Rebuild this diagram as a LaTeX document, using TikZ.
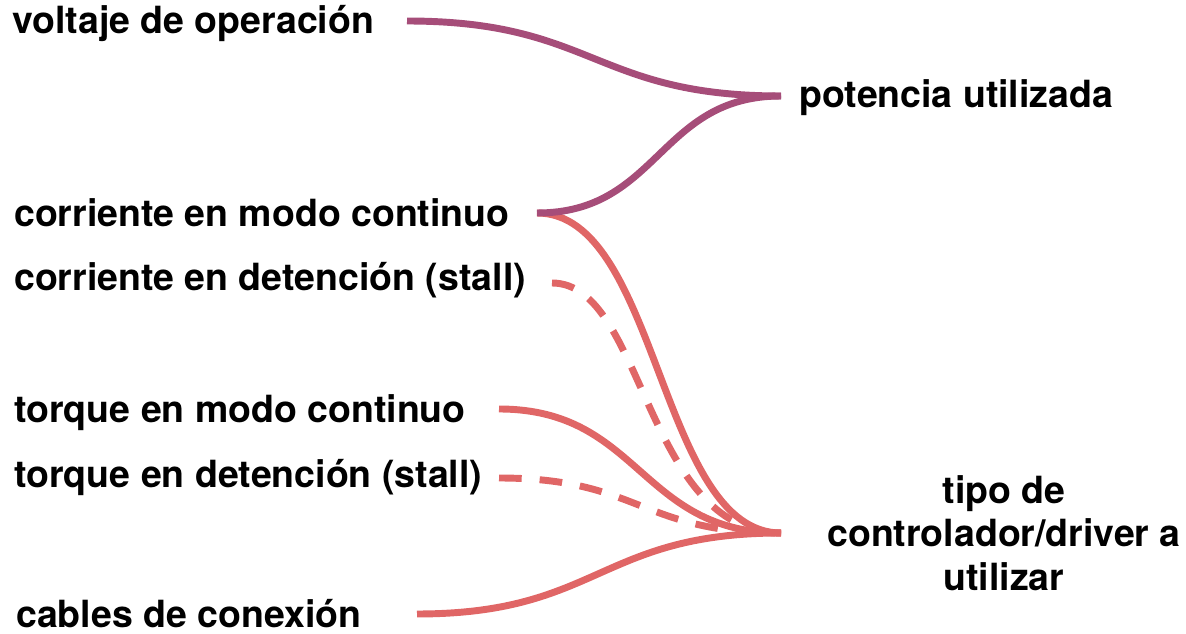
\documentclass[tikz,border=0pt]{standalone}
\usepackage{fontspec}
\setmainfont{TeX Gyre Heros}
\usetikzlibrary{calc}
\definecolor{plum}{HTML}{A64D79}
\definecolor{salmon}{HTML}{E06666}
\newcommand\flowlink[3][]{\draw[#1] let \p1=(#2), \p2=(#3) in (#2) .. controls ({(\x1+\x2)/2},\y1) and ({(\x1+\x2)/2},\y2) .. (#3);}
\begin{document}
\begin{tikzpicture}[x=0.75pt,y=-0.75pt,
  lbl/.style={anchor=base west,inner sep=0pt,font=\fontsize{28.1}{32.5}\selectfont\bfseries,text=black},
  flow/.style={line width=5.2pt,line cap=butt},
  pflow/.style={flow,draw=plum},
  rflow/.style={flow,draw=salmon},
  dflow/.style={rflow,dash pattern=on 17pt off 13.5pt}]
\useasboundingbox (0,0) rectangle (1186,634);
% labels
\node[lbl] (volt) at (12,34) {voltaje de operación};
\node[lbl] (pot) at (799,108) {potencia utilizada};
\node[lbl] (cmc) at (14,227) {corriente en modo continuo};
\node[lbl] (cdet) at (14,291) {corriente en detención (stall)};
\node[lbl] (tmc) at (14,423) {torque en modo continuo};
\node[lbl] (tdet) at (14,488) {torque en detención (stall)};
\node[lbl] (cab) at (16,628) {cables de conexión};
\node[lbl,anchor=center,align=center] (drv) at (1004,533) {tipo de\\controlador/driver a\\utilizar};
% connector ends
\coordinate (volt-o) at (407,21);
\coordinate (cmc-o) at (537,213);
\coordinate (cdet-o) at (552,283);
\coordinate (tmc-o) at (499,409);
\coordinate (tdet-o) at (499,478);
\coordinate (cab-o) at (417,614);
\coordinate (pot-i) at (781,96);
\coordinate (drv-i) at (781,533);
% connectors
\flowlink[rflow]{cmc-o}{drv-i}
\draw[dflow] (cdet-o) .. controls ($(cdet-o)+(92.5,0)$) and ($(drv-i)+(-136.5,0)$) .. (drv-i);
\flowlink[rflow]{tmc-o}{drv-i}
\flowlink[dflow]{tdet-o}{drv-i}
\flowlink[rflow]{cab-o}{drv-i}
\flowlink[pflow]{volt-o}{pot-i}
\flowlink[pflow]{cmc-o}{pot-i}
\end{tikzpicture}
\end{document}
